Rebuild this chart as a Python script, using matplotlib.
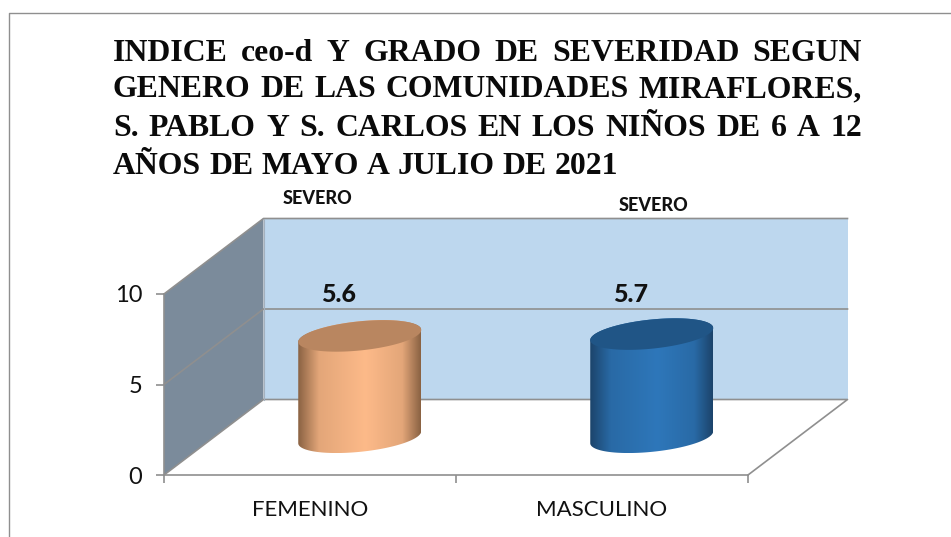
import matplotlib
matplotlib.use('Agg')
import matplotlib.pyplot as plt
import numpy as np
from matplotlib.colors import LinearSegmentedColormap
from matplotlib.lines import Line2D
from matplotlib.patches import Polygon

title_lines = ['INDICE ceo-d Y GRADO DE SEVERIDAD SEGUN',
               'GENERO DE LAS COMUNIDADES MIRAFLORES,',
               'S. PABLO Y S. CARLOS EN LOS NIÑOS DE 6 A 12',
               'AÑOS DE MAYO A JULIO DE 2021']
categories = ['FEMENINO', 'MASCULINO']
values = [5.6, 5.7]
severity = ['SEVERO', 'SEVERO']
y_ticks = [0, 5, 10]

W, H = 951, 537
GREY = '#8f8f8f'

# depth of the 3d box, in axis units
dx = 99.5 / 292
dy = 75.5 / 18.1
# cylinder ellipse
a = 61.5 / 292
b = 14.6 / 18.1
tilt = 6 / 18.1


def fx(px):
    return px / W


def fy(py):
    return 1 - py / H


fig = plt.figure(figsize=(W / 100, H / 100), dpi=100)
ax = fig.add_axes([fx(164), fy(475), 584 / W, 181 / H])
ax.patch.set_visible(False)

# walls
ax.add_patch(Polygon([(0, 0), (0, 10), (dx, 10 + dy), (dx, dy)], fc='#7b8b9b', ec='none', clip_on=False, zorder=1))
ax.add_patch(Polygon([(dx, dy), (dx, 10 + dy), (2 + dx, 10 + dy), (2 + dx, dy)], fc='#bdd7ee', ec='none', clip_on=False, zorder=1))
for v in y_ticks[1:]:
    ax.plot([0, dx, 2 + dx], [v, v + dy, v + dy], color=GREY, lw=1.2, clip_on=False, zorder=2)
ax.plot([0, dx, 2 + dx, 2], [0, dy, dy, 0], color=GREY, lw=1.2, clip_on=False, zorder=2)
ax.plot([dx, dx], [dy, 10 + dy], color='#a3b1bf', lw=0.8, clip_on=False, zorder=2)


def cylinder(i, value, side, mid, top):
    cx = i + 0.5 + dx / 2
    base = dy / 2
    t1 = np.linspace(np.pi, 2 * np.pi, 80)
    t2 = np.linspace(0, np.pi, 80)
    xs = np.r_[cx + a * np.cos(t1), cx + a * np.cos(t2)]
    ys = np.r_[base + tilt * np.cos(t1) + b * np.sin(t1),
               base + value + tilt * np.cos(t2) + b * np.sin(t2)]
    body = Polygon(np.c_[xs, ys], fc='none', ec='none', zorder=3, clip_on=False)
    ax.add_patch(body)
    cmap = LinearSegmentedColormap.from_list('c', [(0, side), (0.17, mid[0]), (0.55, mid[1]), (0.85, mid[0]), (1, side)])
    im = ax.imshow(np.linspace(0, 1, 256)[None, :], cmap=cmap, aspect='auto', zorder=3,
                   extent=(cx - a, cx + a, ys.min(), ys.max()))
    im.set_clip_path(body)
    t = np.linspace(0, 2 * np.pi, 160)
    ax.fill(cx + a * np.cos(t), base + value + tilt * np.cos(t) + b * np.sin(t), color=top, lw=0, zorder=4, clip_on=False)


cylinder(0, values[0], '#8a6243', ('#e3a679', '#fdba89'), '#b98660')
cylinder(1, values[1], '#1c446b', ('#296aa6', '#2e77ba'), '#205586')

ax.set_xlim(0, 2)
ax.set_ylim(0, 10)
for s in ['top', 'right']:
    ax.spines[s].set_visible(False)
for s in ['left', 'bottom']:
    ax.spines[s].set_color(GREY)
    ax.spines[s].set_linewidth(1.2)
ax.set_yticks(y_ticks)
ax.set_xticks([0, 1, 2])
ax.set_xticklabels([])
ax.set_xticks([0.5, 1.5], categories, minor=True, family='Lato', fontsize=16, color='#111111')
ax.tick_params(axis='x', which='minor', length=0, pad=18)
ax.tick_params(axis='both', which='major', color=GREY, length=5.5, width=1.2)
ax.tick_params(axis='y', labelsize=17, labelcolor='#111111', pad=10)
for lab in ax.get_yticklabels():
    lab.set_family('Lato')

# data labels and severity
for i, v in enumerate(values):
    ax.text(i + 0.5 + 29 / 292, 10.0, f'{v:.1f}', ha='center', va='center', family='Lato',
            fontweight='black', fontsize=18, color='#111111', zorder=5)
fig.text(fx(318), fy(199), severity[0], ha='center', va='center', family='Lato', fontweight='black', fontsize=13, color='#111111')
fig.text(fx(654), fy(206), severity[1], ha='center', va='center', family='Lato', fontweight='black', fontsize=13, color='#111111')

# justified title
renderer = fig.canvas.get_renderer()
left, right = 113, 862
title_y = [53, 90, 128, 166]
for n, line in enumerate(title_lines):
    words = line.split(' ')
    items = [fig.text(0, fy(title_y[n]), w, family='Liberation Serif', fontweight='bold', fontsize=22.9,
                      ha='left', va='center', color='#0a0a0a') for w in words]
    widths = [t.get_window_extent(renderer).width for t in items]
    space = 8.0
    if n < 3:
        space = (right - left - sum(widths)) / (len(words) - 1)
    x = left
    for t, w in zip(items, widths):
        t.set_x(fx(x))
        x += w + space

# outer frame of the chart
fig.add_artist(Line2D([fx(9), fx(9), 1], [0, fy(12.5), fy(12.5)], color=GREY, lw=1.0))

fig.savefig('out.png', dpi=100)
